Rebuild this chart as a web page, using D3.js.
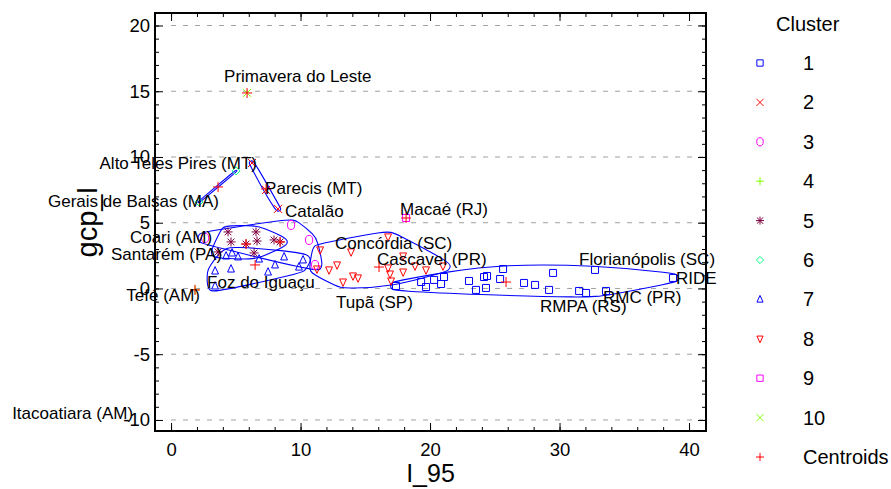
<!DOCTYPE html>
<html>
<head>
<meta charset="utf-8">
<script src="https://cdnjs.cloudflare.com/ajax/libs/d3/7.8.5/d3.min.js"></script>
<style>
body { margin: 0; background: #fff; }
text { font-family: "Liberation Sans", Arial, sans-serif; }
</style>
</head>
<body>
<svg width="891" height="489"></svg>
<script>
// points per cluster: [I_95, gcp_I, name]
var cluster1 = [[17.37,0.19],[19.31,0.49],[19.69,0.11],[20.31,0.65],[20.85,0.34],[21.08,0.87],
    [23.01,0.57],[23.55,-0.11],[24.17,0.87],[24.40,0.95],[24.32,0.04],[25.41,0.72],[25.64,1.48],
    [27.26,0.42],[28.11,0.27],[29.19,-0.11,"RMPA (RS)"],[29.50,1.18],[31.51,-0.19],[32.05,-0.34],
    [32.74,1.41,"Florianópolis (SC)"],[33.59,-0.19,"RMC (PR)"],[38.76,0.80,"RIDE"]];
var cluster2 = [[6.25,9.54,"Alto Teles Pires (MT)"],[7.34,7.49,"Parecis (MT)"],[8.26,6.05,"Catalão"]];
var cluster3 = [[2.63,3.84,"Coari (AM)"],[9.27,4.83],[10.66,3.69],[11.12,1.79]];
var cluster4 = [[1.85,-0.11,"Tefé (AM)"],[-3.32,-10.0,"Itacoatiara (AM)"]];
var cluster5 = [[4.40,4.30],[6.56,4.30],[4.63,3.54],[6.64,3.61],[7.95,3.69],[5.79,3.38],
    [3.63,2.78,"Santarém (PA)"],[6.41,2.70],[8.42,3.54]];
var cluster6 = [[2.16,6.58,"Gerais de Balsas (MA)"],[5.02,8.94]];
var cluster7 = [[4.25,2.47],[4.71,2.70],[5.17,2.40],[6.80,2.24],[8.73,2.40],[10.19,2.17],
    [3.40,1.33],[4.63,1.48],[7.49,1.25],[8.03,1.79],[9.88,1.63],[3.40,0.19,"Foz do Iguaçu"]];
var cluster8 = [[11.51,2.93],[11.27,1.48],[12.20,1.41],[12.82,1.79],[13.28,0.49,"Tupã (SP)"],
    [13.90,2.78],[14.05,0.95],[14.44,0.80],[16.76,3.92,"Concórdia (SC)"],[16.76,1.56],[16.91,1.10],
    [16.99,0.57],[17.92,2.47],[17.92,1.25],[18.84,1.71],[19.69,1.41],[21.00,1.71,"Cascavel (PR)"]];
var cluster9 = [[18.15,5.36,"Macaé (RJ)"]];
var cluster10 = [[5.87,14.87,"Primavera do Leste"]];

var clusters = [cluster1, cluster2, cluster3, cluster4, cluster5, cluster6, cluster7, cluster8, cluster9, cluster10];
var clusterNames = ["1","2","3","4","5","6","7","8","9","10"];
var centroids = [[25.87,0.49],[7.34,7.57],[8.42,3.54],[1.85,-0.11],[5.79,3.38],
    [3.63,7.72],[6.49,1.79],[16.06,1.63],[18.15,5.36],[5.87,14.87]];

var xTicks = [0, 10, 20, 30, 40];
var yTicks = [-10, -5, 0, 5, 10, 15, 20];

// styles
var colors = ["#0000ff","#ff0000","#ff00ff","#80ff00","#800040","#00ff80","#0000ff","#ff0000","#ff00ff","#80ff00"];
var shapes = ["square","x","circle","plus","asterisk","diamond","triUp","triDown","square","x"];
var hullPad = {0: 6, 1: 3, 2: 8, 4: 8, 5: 1, 6: 8, 7: 8};

// label placement: [anchor, dx, dy]
var labelPos = {
    "Primavera do Leste": ["start", -23, -11],
    "Alto Teles Pires (MT)": ["end", 5, 6],
    "Parecis (MT)": ["start", -1, 4],
    "Catalão": ["start", 7, 8],
    "Gerais de Balsas (MA)": ["end", 20, 5],
    "Macaé (RJ)": ["start", -6, -3],
    "Coari (AM)": ["end", 7, 5],
    "Concórdia (SC)": ["start", -53, 12],
    "Santarém (PA)": ["end", 4, 8],
    "Cascavel (PR)": ["start", -66, -1],
    "Florianópolis (SC)": ["start", -16, -5],
    "RIDE": ["start", 3, 6],
    "Foz do Iguaçu": ["start", -8, 2],
    "Tefé (AM)": ["end", 5, 11],
    "Tupã (SP)": ["start", -7, 26],
    "RMC (PR)": ["start", -3, 12],
    "RMPA (RS)": ["start", -9, 22],
    "Itacoatiara (AM)": ["end", 5, -1]
};

var svg = d3.select("svg");
var plotLeft = 155, plotRight = 706, plotTop = 13, plotBottom = 431;

var x = d3.scaleLinear().domain([-1.24, 41.31]).range([plotLeft, plotRight]);
var y = d3.scaleLinear().domain([-10.84, 20.95]).range([plotBottom, plotTop]);

function symbolPath(shape, s) {
    var h = s;
    switch (shape) {
        case "square": return "M" + (-h) + "," + (-h) + "h" + 2*h + "v" + 2*h + "h" + (-2*h) + "Z";
        case "x": return "M" + (-h) + "," + (-h) + "L" + h + "," + h + "M" + (-h) + "," + h + "L" + h + "," + (-h);
        case "plus": return "M" + (-h) + ",0L" + h + ",0M0," + (-h) + "L0," + h;
        case "asterisk":
            var k = h * 0.75;
            return "M" + (-h) + ",0L" + h + ",0M0," + (-h) + "L0," + h +
                "M" + (-k) + "," + (-k) + "L" + k + "," + k + "M" + (-k) + "," + k + "L" + k + "," + (-k);
        case "circle":
            var rx = h * 0.95, ry = h * 1.2;
            return "M" + (-rx) + ",0A" + rx + "," + ry + " 0 1 0 " + rx + ",0A" + rx + "," + ry + " 0 1 0 " + (-rx) + ",0Z";
        case "diamond": return "M0," + (-h) + "L" + h + ",0L0," + h + "L" + (-h) + ",0Z";
        case "triUp": return "M0," + (-h*1.15) + "L" + (h*0.9) + "," + (h*0.8) + "L" + (-h*0.9) + "," + (h*0.8) + "Z";
        case "triDown": return "M0," + (h*1.15) + "L" + (h*0.9) + "," + (-h*0.8) + "L" + (-h*0.9) + "," + (-h*0.8) + "Z";
    }
}
var symSize = {square: 3.5, x: 4, plus: 4.5, asterisk: 4.5, circle: 3.8, diamond: 4, triUp: 3.8, triDown: 3.8};

svg.append("defs").append("clipPath").attr("id", "plotclip")
    .append("rect").attr("x", plotLeft).attr("y", plotTop)
    .attr("width", plotRight - plotLeft).attr("height", plotBottom - plotTop);

// grid
svg.append("g").selectAll("line").data(yTicks).enter().append("line")
    .attr("x1", x(0)).attr("x2", plotRight - 3)
    .attr("y1", function(d) { return y(d); }).attr("y2", function(d) { return y(d); })
    .attr("stroke", "#a0a0a0").attr("stroke-width", 1).attr("stroke-dasharray", "5,7");

var plot = svg.append("g").attr("clip-path", "url(#plotclip)");

// hulls: padded convex hull, smoothed
var line = d3.line().curve(d3.curveBasisClosed);
clusters.forEach(function(pts, i) {
    if (hullPad[i] === undefined) return;
    var pad = hullPad[i];
    var ring = [];
    pts.forEach(function(p) {
        for (var a = 0; a < 8; a++) {
            var t = a / 8 * 2 * Math.PI;
            ring.push([x(p[0]) + pad * Math.cos(t), y(p[1]) + pad * 0.8 * Math.sin(t)]);
        }
    });
    var hull = d3.polygonHull(ring);
    plot.append("path").attr("d", line(hull))
        .attr("fill", "none").attr("stroke", "#0000ff").attr("stroke-width", 1.1);
});

// points
clusters.forEach(function(pts, i) {
    plot.append("g").selectAll("path").data(pts).enter().append("path")
        .attr("transform", function(d) { return "translate(" + x(d[0]) + "," + y(d[1]) + ")"; })
        .attr("d", symbolPath(shapes[i], symSize[shapes[i]]))
        .attr("fill", "none").attr("stroke", colors[i]).attr("stroke-width", 1);
});

// centroids
plot.append("g").selectAll("path").data(centroids).enter().append("path")
    .attr("transform", function(d) { return "translate(" + x(d[0]) + "," + y(d[1]) + ")"; })
    .attr("d", symbolPath("plus", 5))
    .attr("fill", "none").attr("stroke", "#ff0000").attr("stroke-width", 1);

// axes
function styleAxis(g) {
    g.select(".domain").remove();
    g.selectAll(".tick line").attr("stroke", "#000").attr("stroke-width", 1);
    g.selectAll(".tick text").attr("fill", "#000").style("font-size", "18.5px")
        .style("font-family", "'Liberation Sans', Arial, sans-serif");
}
var xMinor = d3.range(0, 42, 2), yMinor = d3.range(-10, 21, 1);
var fmt = function(d) { return String(d); };

svg.append("g").attr("transform", "translate(0," + plotBottom + ")")
    .call(d3.axisBottom(x).tickValues(xMinor).tickSize(-4).tickFormat("")).call(styleAxis);
svg.append("g").attr("transform", "translate(0," + plotBottom + ")")
    .call(d3.axisBottom(x).tickValues(xTicks).tickSize(-8).tickPadding(12).tickFormat(fmt)).call(styleAxis);
svg.append("g").attr("transform", "translate(0," + plotTop + ")")
    .call(d3.axisTop(x).tickValues(xMinor).tickSize(-4).tickFormat("")).call(styleAxis);
svg.append("g").attr("transform", "translate(0," + plotTop + ")")
    .call(d3.axisTop(x).tickValues(xTicks).tickSize(-8).tickFormat("")).call(styleAxis);
svg.append("g").attr("transform", "translate(" + plotLeft + ",0)")
    .call(d3.axisLeft(y).tickValues(yMinor).tickSize(-4).tickFormat("")).call(styleAxis);
svg.append("g").attr("transform", "translate(" + plotLeft + ",0)")
    .call(d3.axisLeft(y).tickValues(yTicks).tickSize(-8).tickPadding(5).tickFormat(fmt)).call(styleAxis);
svg.append("g").attr("transform", "translate(" + plotRight + ",0)")
    .call(d3.axisRight(y).tickValues(yMinor).tickSize(-4).tickFormat("")).call(styleAxis);
svg.append("g").attr("transform", "translate(" + plotRight + ",0)")
    .call(d3.axisRight(y).tickValues(yTicks).tickSize(-8).tickFormat("")).call(styleAxis);

svg.append("rect").attr("x", plotLeft).attr("y", plotTop)
    .attr("width", plotRight - plotLeft).attr("height", plotBottom - plotTop)
    .attr("fill", "none").attr("stroke", "#000").attr("stroke-width", 2);

// point labels
var labeled = [];
clusters.forEach(function(pts) {
    pts.forEach(function(p) { if (p[2]) labeled.push(p); });
});
svg.append("g").selectAll("text").data(labeled).enter().append("text")
    .attr("x", function(d) { return x(d[0]) + labelPos[d[2]][1]; })
    .attr("y", function(d) { return y(d[1]) + labelPos[d[2]][2]; })
    .attr("text-anchor", function(d) { return labelPos[d[2]][0]; })
    .style("font-size", "17px").attr("fill", "#000")
    .text(function(d) { return d[2]; });

// axis titles
svg.append("text").attr("x", (plotLeft + plotRight) / 2).attr("y", 482).attr("text-anchor", "middle")
    .style("font-size", "25px").text("I_95");
svg.append("text").attr("transform", "translate(87," + (plotTop + plotBottom) / 2 + ") rotate(-90)")
    .attr("text-anchor", "middle").attr("dy", "0.35em")
    .style("font-size", "29px").text("gcp_I");

// legend
var legend = svg.append("g");
legend.append("text").attr("x", 776).attr("y", 31).style("font-size", "20px").text("Cluster");
var legendItems = clusterNames.concat(["Centroids"]);
legendItems.forEach(function(name, i) {
    var ly = 63 + i * 39.4;
    var shape = i < 10 ? shapes[i] : "plus";
    var col = i < 10 ? colors[i] : "#ff0000";
    legend.append("path").attr("transform", "translate(760," + ly + ")")
        .attr("d", symbolPath(shape, symSize[shape] * 0.9))
        .attr("fill", "none").attr("stroke", col).attr("stroke-width", 1);
    legend.append("text").attr("x", 803).attr("y", ly + 7).style("font-size", "20px").text(name);
});
</script>
</body>
</html>
